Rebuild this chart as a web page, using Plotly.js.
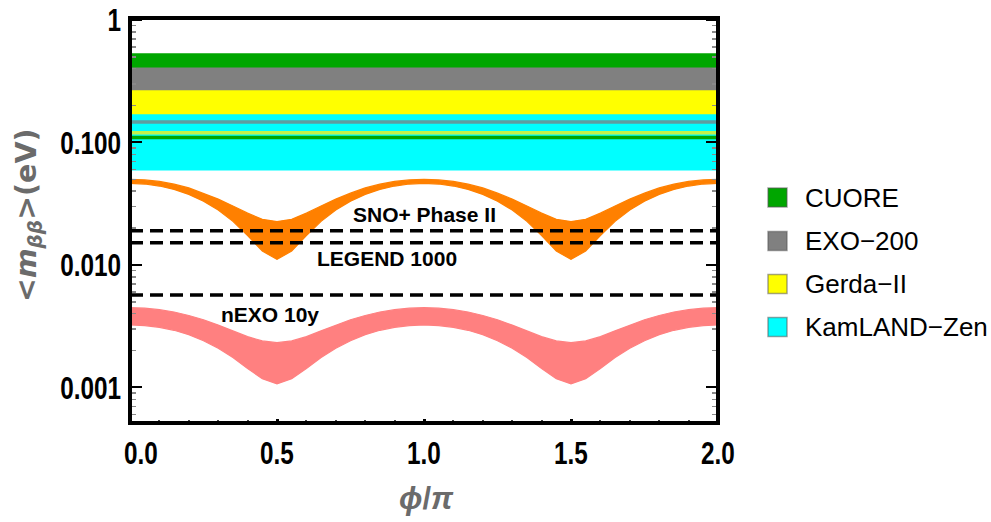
<!DOCTYPE html>
<html>
<head>
<meta charset="utf-8">
<script src="https://cdn.plot.ly/plotly-3.0.1.min.js"></script>
<style>
  html, body { margin: 0; padding: 0; background: #ffffff; }
  #chart { width: 991px; height: 522px; }
</style>
</head>
<body>
<div id="chart"></div>
<script>
// Majorana phase grid, in units of pi
const phiOverPi = [0.00,0.05,0.10,0.15,0.20,0.25,0.30,0.35,0.40,0.45,0.50,
                   0.55,0.60,0.65,0.70,0.75,0.80,0.85,0.90,0.95,1.00,
                   1.05,1.10,1.15,1.20,1.25,1.30,1.35,1.40,1.45,1.50,
                   1.55,1.60,1.65,1.70,1.75,1.80,1.85,1.90,1.95,2.00];

// Effective mass band, heavier spectrum (eV): upper and lower envelope
const heavyUpper = [0.0500,0.0495,0.0481,0.0457,0.0426,0.0386,0.0345,0.0303,0.0265,0.0236,0.0226,
                    0.0236,0.0265,0.0303,0.0345,0.0386,0.0426,0.0457,0.0481,0.0495,0.0500,
                    0.0495,0.0481,0.0457,0.0426,0.0386,0.0345,0.0303,0.0265,0.0236,0.0226,
                    0.0236,0.0265,0.0303,0.0345,0.0386,0.0426,0.0457,0.0481,0.0495,0.0500];
const heavyLower = [0.0464,0.0458,0.0441,0.0414,0.0377,0.0332,0.0281,0.0227,0.0174,0.0130,0.0111,
                    0.0130,0.0174,0.0227,0.0281,0.0332,0.0377,0.0414,0.0441,0.0458,0.0464,
                    0.0458,0.0441,0.0414,0.0377,0.0332,0.0281,0.0227,0.0174,0.0130,0.0111,
                    0.0130,0.0174,0.0227,0.0281,0.0332,0.0377,0.0414,0.0441,0.0458,0.0464];

// Effective mass band, lighter spectrum (eV): upper and lower envelope
const lightUpper = [0.00448,0.00444,0.00432,0.00413,0.00387,0.00357,0.00323,0.00290,0.00260,0.00240,0.00232,
                    0.00240,0.00260,0.00290,0.00323,0.00357,0.00387,0.00413,0.00432,0.00444,0.00448,
                    0.00444,0.00432,0.00413,0.00387,0.00357,0.00323,0.00290,0.00260,0.00240,0.00232,
                    0.00240,0.00260,0.00290,0.00323,0.00357,0.00387,0.00413,0.00432,0.00444,0.00448];
const lightLower = [0.00324,0.00320,0.00310,0.00293,0.00270,0.00241,0.00209,0.00176,0.00143,0.00118,0.00107,
                    0.00118,0.00143,0.00176,0.00209,0.00241,0.00270,0.00293,0.00310,0.00320,0.00324,
                    0.00320,0.00310,0.00293,0.00270,0.00241,0.00209,0.00176,0.00143,0.00118,0.00107,
                    0.00118,0.00143,0.00176,0.00209,0.00241,0.00270,0.00293,0.00310,0.00320,0.00324];

// Current experimental limits on <m_bb> (eV)
const experiments = ['CUORE', 'EXO\u2212200', 'Gerda\u2212II', 'KamLAND\u2212Zen'];
const limitLow  = [0.110, 0.147, 0.120, 0.061];
const limitHigh = [0.520, 0.398, 0.260, 0.165];

// Future sensitivities (eV)
const futureNames  = ['SNO+ Phase II', 'LEGEND 1000', 'nEXO 10y'];
const futureValues = [0.0190, 0.0152, 0.0057];

// Tick labels
const yTickVals = [0.001, 0.01, 0.1, 1];
const yTickText = ['0.001', '0.010', '0.100', '1'];
const xTickVals = [0, 0.5, 1, 1.5, 2];
const xTickText = ['0.0', '0.5', '1.0', '1.5', '2.0'];

// ---- styling ----
const bandFill   = ['#00a600', '#808080', '#ffff00', '#00ffff'];
const edgeTop    = ['#00a600', '#808080', '#ffff00', '#00ffff'];
const edgeBottom = ['#00a600', '#5e9ea0', '#c4f24a', '#00ffff'];
const heavyColor = '#ff8000';
const lightColor = '#ff8080';
const labelPos = [ {x: 1.000, ly: -1.590}, {x: 0.874, ly: -1.950}, {x: 0.476, ly: -2.405} ];

const boldSans = 'Liberation Sans, Arial, sans-serif';
const sans = 'Liberation Sans, Arial, sans-serif';
const tickSqueeze = 0.76;   // horizontal compression of the tick numerals

const xSpan = [phiOverPi[0], phiOverPi[phiOverPi.length - 1]];
const traces = [];

// filled limit bands
experiments.forEach((name, i) => {
  traces.push({
    type: 'scatter', mode: 'lines', name: name, showlegend: false, hoverinfo: 'skip',
    x: [xSpan[0], xSpan[1], xSpan[1], xSpan[0], xSpan[0]],
    y: [limitLow[i], limitLow[i], limitHigh[i], limitHigh[i], limitLow[i]],
    fill: 'toself', fillcolor: bandFill[i], line: {width: 0}
  });
});
// band edges drawn over all fills
experiments.forEach((name, i) => {
  traces.push({
    type: 'scatter', mode: 'lines', showlegend: false, hoverinfo: 'skip',
    x: xSpan, y: [limitHigh[i], limitHigh[i]],
    line: {color: edgeTop[i], width: 3}
  });
});
[1, 2, 0, 3].forEach(i => {
  traces.push({
    type: 'scatter', mode: 'lines', showlegend: false, hoverinfo: 'skip',
    x: xSpan, y: [limitLow[i], limitLow[i]],
    line: {color: edgeBottom[i], width: 3.5}
  });
});

// effective mass bands
function massBand(lower, upper, color) {
  traces.push({
    type: 'scatter', mode: 'lines', showlegend: false, hoverinfo: 'skip',
    x: phiOverPi, y: lower, line: {color: color, width: 1.2}
  });
  traces.push({
    type: 'scatter', mode: 'lines', showlegend: false, hoverinfo: 'skip',
    x: phiOverPi, y: upper, fill: 'tonexty', fillcolor: color,
    line: {color: color, width: 1.2}
  });
}
massBand(heavyLower, heavyUpper, heavyColor);
massBand(lightLower, lightUpper, lightColor);

// future sensitivity lines
futureNames.forEach((name, i) => {
  traces.push({
    type: 'scatter', mode: 'lines', name: name, showlegend: false, hoverinfo: 'skip',
    x: xSpan, y: [futureValues[i], futureValues[i]],
    line: {color: '#000000', width: 3.5, dash: '13px,7px'}
  });
});

// minor ticks
const yMinor = [];
for (let e = -4; e <= -1; e++) for (let d = 2; d <= 9; d++) yMinor.push(d * Math.pow(10, e));
const xMinor = [];
for (let k = 1; k < 20; k++) if (k % 5 !== 0) xMinor.push(k / 10);

// plot-area geometry in pixels
const W = 991, H = 522, L = 130, R = 718, T = 18, B = 423;
const px = v => (v - L) / (R - L);
const py = v => (B - v) / (B - T);

const annotations = futureNames.map((name, i) => ({
  x: labelPos[i].x, y: labelPos[i].ly, xref: 'x', yref: 'y',
  text: name, showarrow: false, xanchor: 'center', yanchor: 'middle',
  font: {family: sans, size: 21, weight: 'bold', color: '#000'}
}));
annotations.push({
  x: px(28), y: py(216), xref: 'paper', yref: 'paper', textangle: -90,
  text: '&lt;<i>m</i><sub><i>\u03b2\u03b2</i></sub>&gt;(eV)', showarrow: false,
  xanchor: 'center', yanchor: 'middle',
  font: {family: 'DejaVu Sans, sans-serif', size: 28.5, weight: 'bold', color: '#6b6b6b'}
});
annotations.push({
  x: px(427), y: py(498), xref: 'paper', yref: 'paper',
  text: '<i>\u03d5</i>/<i>\u03c0</i>', showarrow: false,
  xanchor: 'center', yanchor: 'middle',
  font: {family: boldSans, size: 31, weight: 'bold', color: '#6b6b6b'}
});

const shapes = [{
  type: 'rect', xref: 'paper', yref: 'paper', x0: 0, x1: 1, y0: 0, y1: 1,
  line: {color: '#000', width: 4}, fillcolor: 'rgba(0,0,0,0)', layer: 'above'
}];

// legend drawn as swatches and labels
const legendRows = [197.5, 241, 284, 327];
experiments.forEach((name, i) => {
  const cy = legendRows[i];
  shapes.push({
    type: 'rect', xref: 'paper', yref: 'paper',
    x0: px(768), x1: px(787), y0: py(cy + 9.5), y1: py(cy - 9.5),
    fillcolor: bandFill[i], line: {color: 'rgba(90,90,90,0.55)', width: 1.5}
  });
  annotations.push({
    x: px(803), y: py(cy), xref: 'paper', yref: 'paper', text: name,
    showarrow: false, xanchor: 'left', yanchor: 'middle',
    font: {family: sans, size: 26, color: '#000'}
  });
});

const layout = {
  width: W, height: H,
  margin: {l: L, r: W - R, t: T, b: H - B, pad: 0},
  paper_bgcolor: '#ffffff', plot_bgcolor: '#ffffff',
  showlegend: false,
  xaxis: {
    range: [0, 2], showline: false, showgrid: false, zeroline: false,
    tickmode: 'array', tickvals: xTickVals, ticktext: xTickText,
    ticks: 'inside', ticklen: 4, tickwidth: 3, tickcolor: '#000',
    ticklabelstandoff: 8,
    tickfont: {family: boldSans, size: 32, weight: 'bold', color: '#000'},
    minor: {tickmode: 'array', tickvals: xMinor, ticks: 'inside', ticklen: 3, tickwidth: 2, tickcolor: '#444', showgrid: false}
  },
  yaxis: {
    type: 'log', range: [-3.29, 0.0163], showline: false, showgrid: false, zeroline: false,
    mirror: 'ticks',
    tickmode: 'array', tickvals: yTickVals, ticktext: yTickText,
    ticks: 'inside', ticklen: 12, tickwidth: 2, tickcolor: '#000',
    ticklabelstandoff: 8,
    tickfont: {family: boldSans, size: 32, weight: 'bold', color: '#000'},
    minor: {tickmode: 'array', tickvals: yMinor, ticks: 'inside', ticklen: 6, tickwidth: 1.5, tickcolor: '#8a8a8a', showgrid: false}
  },
  shapes: shapes,
  annotations: annotations
};

// narrow the bold tick numerals about their anchor point
function squeezeTicks(gd) {
  gd.querySelectorAll('.xtick text, .ytick text').forEach(t => {
    if (!t.dataset.baseTransform) t.dataset.baseTransform = t.getAttribute('transform') || '';
    const X = parseFloat(t.getAttribute('x')) || 0;
    const Y = parseFloat(t.getAttribute('y')) || 0;
    let extra = '';
    if (t.closest('.xtick') && t.textContent.trim() === xTickText[0]) extra = ' translate(11,0)';
    t.setAttribute('transform', t.dataset.baseTransform + extra +
      ` translate(${X},${Y}) scale(${tickSqueeze},1) translate(${-X},${-Y})`);
  });
}

const gd = document.getElementById('chart');
Plotly.newPlot(gd, traces, layout, {staticPlot: true, displayModeBar: false})
  .then(() => {
    squeezeTicks(gd);
    gd.on('plotly_afterplot', () => squeezeTicks(gd));
  });
</script>
</body>
</html>
